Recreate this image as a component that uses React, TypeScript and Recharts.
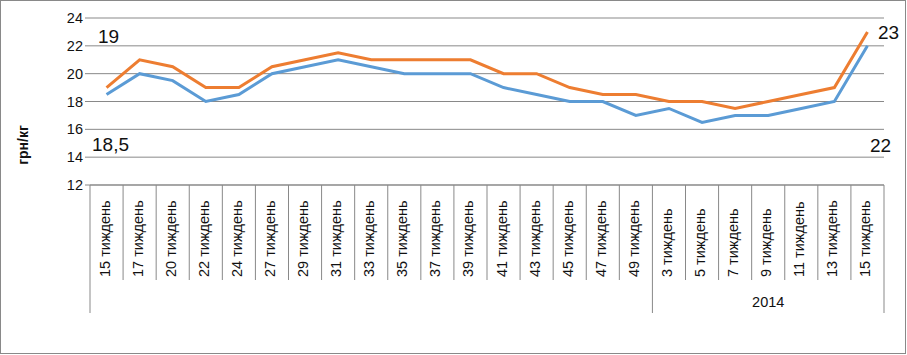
import { CartesianGrid, LabelList, Line, LineChart, XAxis, YAxis } from "recharts";

const weeks = [
  "15 тиждень", "17 тиждень", "20 тиждень", "22 тиждень", "24 тиждень", "27 тиждень",
  "29 тиждень", "31 тиждень", "33 тиждень", "35 тиждень", "37 тиждень", "39 тиждень",
  "41 тиждень", "43 тиждень", "45 тиждень", "47 тиждень", "49 тиждень",
  "3 тиждень", "5 тиждень", "7 тиждень", "9 тиждень", "11 тиждень", "13 тиждень", "15 тиждень",
];
const years = [
  "", "", "", "", "", "", "", "", "", "", "", "", "", "", "", "", "",
  "2014", "2014", "2014", "2014", "2014", "2014", "2014",
];
const minPrice = [18.5, 20, 19.5, 18, 18.5, 20, 20.5, 21, 20.5, 20, 20, 20, 19, 18.5, 18, 18, 17, 17.5, 16.5, 17, 17, 17.5, 18, 22];
const maxPrice = [19, 21, 20.5, 19, 19, 20.5, 21, 21.5, 21, 21, 21, 21, 20, 20, 19, 18.5, 18.5, 18, 18, 17.5, 18, 18.5, 19, 23];
const yTicks = [12, 14, 16, 18, 20, 22, 24];

const data = weeks.map((week, i) => ({ id: i, week, year: years[i], min: minPrice[i], max: maxPrice[i] }));

const W = 906;
const H = 354;
const PLOT_LEFT = 90;
const PLOT_RIGHT = 884;
const PLOT_TOP = 18;
const PLOT_BOTTOM = 185;
const BW = (PLOT_RIGHT - PLOT_LEFT) / weeks.length;
const GRID = "#898989";
const FONT = "Liberation Sans, Arial, sans-serif";
const TEXT = "#111";

// hand-placed data labels (first and last point), offsets from the point
const maxLabelPos: Record<number, [number, number]> = { 0: [2, -45], 23: [21, 7] };
const minLabelPos: Record<number, [number, number]> = { 0: [4, 56], 23: [13, 106] };

const makeLabel = (pos: Record<number, [number, number]>) => (props: any) => {
  const { x, y, value, index } = props;
  const o = pos[index];
  if (!o) return null;
  return (
    <text x={x + o[0]} y={y + o[1]} textAnchor="middle" fontSize={19} fontFamily={FONT} fill={TEXT}>
      {String(value).replace(".", ",")}
    </text>
  );
};

const CategoryTick = (props: any) => {
  const { x, index } = props;
  const left = x - BW / 2;
  const groupStart = index === 0 || years[index] !== years[index - 1];
  const last = index === weeks.length - 1;
  let yearLabel = null;
  if (years[index] && groupStart) {
    let n = 0;
    while (index + n < years.length && years[index + n] === years[index]) n++;
    yearLabel = (
      <text x={left + (n * BW) / 2} y={307} textAnchor="middle" fontSize={14.5} fontFamily={FONT} fill={TEXT}>
        {years[index]}
      </text>
    );
  }
  const tx = x + 3;
  const ty = 277;
  return (
    <g>
      <line x1={left} x2={left} y1={PLOT_BOTTOM} y2={groupStart ? 313 : 280} stroke={GRID} />
      {last && <line x1={left + BW} x2={left + BW} y1={PLOT_BOTTOM} y2={313} stroke={GRID} />}
      <text x={tx} y={ty} transform={`rotate(-90, ${tx}, ${ty})`} textAnchor="start" fontSize={14.5} fontFamily={FONT} fill={TEXT}>
        {weeks[index]}
      </text>
      {yearLabel}
    </g>
  );
};

export default function App() {
  return (
    <div style={{ position: "absolute", left: 0, top: 0, width: W, height: H, border: `1px solid ${GRID}`, boxSizing: "border-box", background: "#fff" }}>
      <div style={{ position: "absolute", left: -1, top: -1 }}>
        <LineChart
          width={W}
          height={H}
          data={data}
          margin={{ top: PLOT_TOP, right: W - PLOT_RIGHT, bottom: H - PLOT_BOTTOM - 128, left: PLOT_LEFT - 60 }}
        >
          <CartesianGrid vertical={false} stroke={GRID} />
          <XAxis
            dataKey="id"
            height={128}
            interval={0}
            padding={{ left: BW / 2, right: BW / 2 }}
            axisLine={{ stroke: GRID }}
            tickLine={false}
            tick={<CategoryTick />}
          />
          <YAxis
            width={60}
            domain={[12, 24]}
            ticks={yTicks}
            axisLine={false}
            tickLine={{ stroke: GRID }}
            tickSize={5}
            tickMargin={2}
            tick={{ fontSize: 14.5, fontFamily: FONT, fill: TEXT }}
            label={{
              content: () => (
                <text x={28} y={145} transform="rotate(-90, 28, 145)" textAnchor="middle" fontSize={14} fontWeight="bold" fontFamily={FONT} fill={TEXT}>
                  грн/кг
                </text>
              ),
            }}
          />
          <Line type="linear" dataKey="min" stroke="#5B9BD5" strokeWidth={3} dot={false} isAnimationActive={false}>
            <LabelList dataKey="min" content={makeLabel(minLabelPos)} />
          </Line>
          <Line type="linear" dataKey="max" stroke="#ED7D31" strokeWidth={3} dot={false} isAnimationActive={false}>
            <LabelList dataKey="max" content={makeLabel(maxLabelPos)} />
          </Line>
        </LineChart>
      </div>
    </div>
  );
}
